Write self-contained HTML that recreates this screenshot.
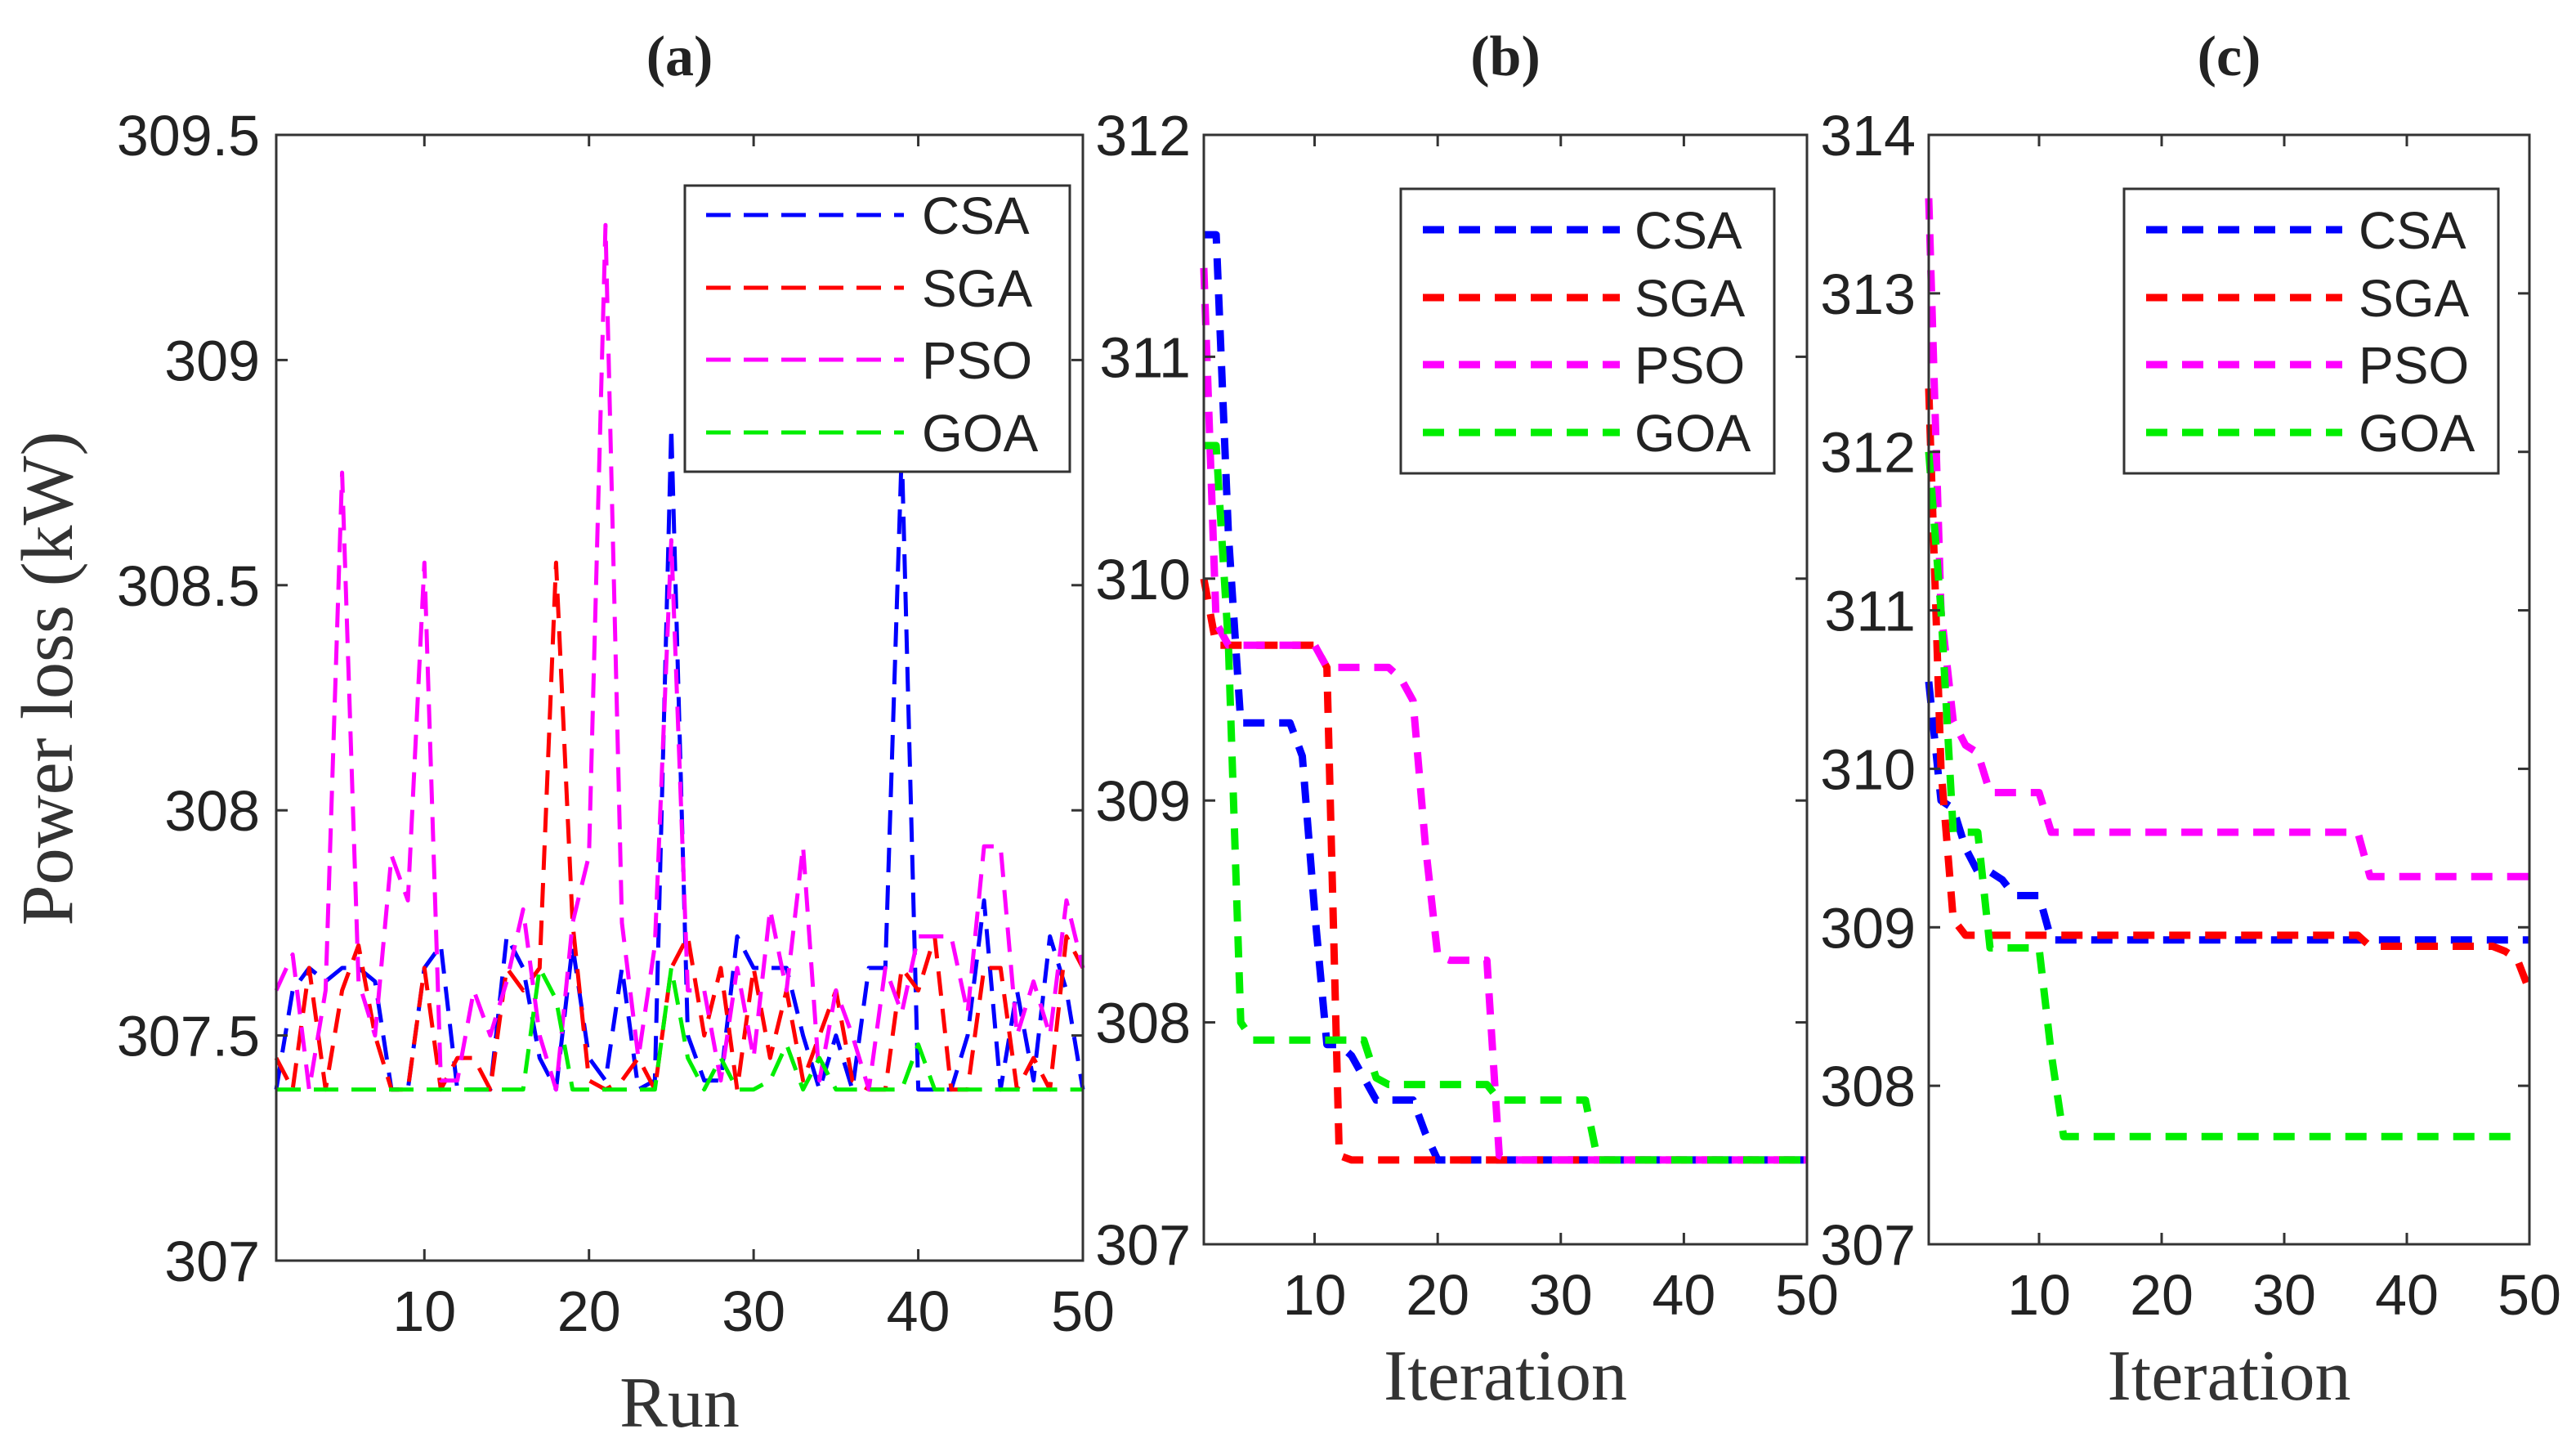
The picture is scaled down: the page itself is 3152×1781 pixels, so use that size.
<!DOCTYPE html>
<html><head><meta charset="utf-8"><style>
body{margin:0;background:#fff}
svg{display:block}
text{font-family:"Liberation Sans",Arial,sans-serif}
.serif{font-family:"Liberation Serif","Times New Roman",serif}
</style></head><body>
<svg id="chart" width="3152" height="1781" viewBox="0 0 3152 1781" xmlns="http://www.w3.org/2000/svg"></svg>
<script>
const runs = Array.from({length:50},(_,i)=>i+1);
const aCSA=[307.38,307.6,307.65,307.62,307.65,307.65,307.62,307.38,307.38,307.65,307.7,307.38,307.38,307.38,307.72,307.65,307.45,307.38,307.7,307.45,307.4,307.65,307.38,307.4,308.85,307.5,307.4,307.4,307.72,307.65,307.65,307.65,307.5,307.38,307.5,307.38,307.65,307.65,308.8,307.38,307.38,307.38,307.5,307.8,307.38,307.6,307.4,307.72,307.6,307.38];
const aSGA=[307.45,307.38,307.65,307.38,307.6,307.7,307.5,307.38,307.38,307.65,307.38,307.45,307.45,307.38,307.65,307.6,307.65,308.55,307.75,307.4,307.38,307.4,307.45,307.38,307.65,307.72,307.5,307.65,307.38,307.65,307.45,307.6,307.4,307.5,307.6,307.4,307.38,307.38,307.65,307.6,307.72,307.38,307.38,307.65,307.65,307.38,307.45,307.38,307.72,307.65];
const aPSO=[307.6,307.68,307.38,307.6,308.75,307.62,307.5,307.9,307.8,308.55,307.4,307.4,307.6,307.5,307.62,307.78,307.5,307.38,307.75,307.9,309.3,307.75,307.45,307.7,308.6,307.6,307.6,307.4,307.65,307.45,307.78,307.6,307.92,307.4,307.6,307.5,307.38,307.65,307.55,307.72,307.72,307.72,307.55,307.92,307.92,307.5,307.62,307.5,307.8,307.65];
const aGOA=[307.38,307.38,307.38,307.38,307.38,307.38,307.38,307.38,307.38,307.38,307.38,307.38,307.38,307.38,307.38,307.38,307.65,307.58,307.38,307.38,307.38,307.38,307.38,307.38,307.65,307.45,307.38,307.45,307.38,307.38,307.4,307.48,307.38,307.45,307.38,307.38,307.38,307.38,307.38,307.48,307.38,307.38,307.38,307.38,307.38,307.38,307.38,307.38,307.38,307.38];
const iters = Array.from({length:50},(_,i)=>i+1);
const bCSA=[311.55,311.55,310.2,309.35,309.35,309.35,309.35,309.35,309.2,308.5,307.9,307.9,307.85,307.75,307.65,307.65,307.65,307.65,307.5,307.38,307.38,307.38,307.38,307.38,307.38,307.38,307.38,307.38,307.38,307.38,307.38,307.38,307.38,307.38,307.38,307.38,307.38,307.38,307.38,307.38,307.38,307.38,307.38,307.38,307.38,307.38,307.38,307.38,307.38,307.38];
const bSGA=[310.0,309.7,309.7,309.7,309.7,309.7,309.7,309.7,309.7,309.7,309.6,307.4,307.38,307.38,307.38,307.38,307.38,307.38,307.38,307.38,307.38,307.38,307.38,307.38,307.38,307.38,307.38,307.38,307.38,307.38,307.38,307.38,307.38,307.38,307.38,307.38,307.38,307.38,307.38,307.38,307.38,307.38,307.38,307.38,307.38,307.38,307.38,307.38,307.38,307.38];
const bPSO=[311.4,309.8,309.7,309.7,309.7,309.7,309.7,309.7,309.7,309.7,309.6,309.6,309.6,309.6,309.6,309.6,309.55,309.45,308.8,308.3,308.28,308.28,308.28,308.28,307.4,307.38,307.38,307.38,307.38,307.38,307.38,307.38,307.38,307.38,307.38,307.38,307.38,307.38,307.38,307.38,307.38,307.38,307.38,307.38,307.38,307.38,307.38,307.38,307.38,307.38];
const bGOA=[310.6,310.6,309.7,308.0,307.92,307.92,307.92,307.92,307.92,307.92,307.92,307.92,307.92,307.92,307.75,307.72,307.72,307.72,307.72,307.72,307.72,307.72,307.72,307.72,307.65,307.65,307.65,307.65,307.65,307.65,307.65,307.65,307.38,307.38,307.38,307.38,307.38,307.38,307.38,307.38,307.38,307.38,307.38,307.38,307.38,307.38,307.38,307.38,307.38,307.38];
const cCSA=[310.55,309.8,309.75,309.5,309.35,309.35,309.3,309.2,309.2,309.2,308.92,308.92,308.92,308.92,308.92,308.92,308.92,308.92,308.92,308.92,308.92,308.92,308.92,308.92,308.92,308.92,308.92,308.92,308.92,308.92,308.92,308.92,308.92,308.92,308.92,308.92,308.92,308.92,308.92,308.92,308.92,308.92,308.92,308.92,308.92,308.92,308.92,308.92,308.92,308.92];
const cSGA=[312.4,310.0,309.05,308.95,308.95,308.95,308.95,308.95,308.95,308.95,308.95,308.95,308.95,308.95,308.95,308.95,308.95,308.95,308.95,308.95,308.95,308.95,308.95,308.95,308.95,308.95,308.95,308.95,308.95,308.95,308.95,308.95,308.95,308.95,308.95,308.95,308.88,308.88,308.88,308.88,308.88,308.88,308.88,308.88,308.88,308.88,308.88,308.85,308.8,308.6];
const cPSO=[313.6,311.0,310.3,310.15,310.1,309.85,309.85,309.85,309.85,309.85,309.6,309.6,309.6,309.6,309.6,309.6,309.6,309.6,309.6,309.6,309.6,309.6,309.6,309.6,309.6,309.6,309.6,309.6,309.6,309.6,309.6,309.6,309.6,309.6,309.6,309.6,309.32,309.32,309.32,309.32,309.32,309.32,309.32,309.32,309.32,309.32,309.32,309.32,309.32,309.32];
const cGOA=[312.0,311.0,309.6,309.6,309.6,308.87,308.87,308.87,308.87,308.87,308.2,307.68,307.68,307.68,307.68,307.68,307.68,307.68,307.68,307.68,307.68,307.68,307.68,307.68,307.68,307.68,307.68,307.68,307.68,307.68,307.68,307.68,307.68,307.68,307.68,307.68,307.68,307.68,307.68,307.68,307.68,307.68,307.68,307.68,307.68,307.68,307.68,307.68,307.68];
const xTicks=[10,20,30,40,50];
const aYTicks=[307,307.5,308,308.5,309,309.5];
const bYTicks=[307,308,309,310,311,312];
const cYTicks=[307,308,309,310,311,312,313,314];
const seriesNames=["CSA","SGA","PSO","GOA"];
const colors=["#0000ff","#ff0000","#ff00ff","#00ee00"];

const NS="http://www.w3.org/2000/svg";
const svg=document.getElementById('chart');
function mk(tag,attrs,parent){const e=document.createElementNS(NS,tag);for(const k in attrs)e.setAttribute(k,attrs[k]);(parent||svg).appendChild(e);return e;}

function panel(id,box,ylim,yTicks,data,title,xlabel,thick,legendBox,showYLabel,xlabY){
  const g=mk('g',{});
  
  
  const X=v=>box.l+(v-1)/49*(box.r-box.l);
  const Y=v=>box.b-(v-ylim[0])/(ylim[1]-ylim[0])*(box.b-box.t);
  const sw=thick?9:5, da=thick?'26,18':'30,16';
  data.forEach((arr,si)=>{
    const pts=arr.map((v,i)=>X(i+1).toFixed(1)+','+Y(v).toFixed(1)).join(' ');
    const p=mk('polyline',{points:pts,fill:'none',stroke:colors[si],'stroke-width':sw,'stroke-dasharray':da,'stroke-linejoin':'round'},g);
    
    
  });
  const fr=mk('rect',{x:box.l,y:box.t,width:box.r-box.l,height:box.b-box.t,fill:'none',stroke:'#333','stroke-width':3},g);
  
  
  xTicks.forEach(t=>{
    const x=X(t);
    mk('line',{x1:x,x2:x,y1:box.b,y2:box.b-14,stroke:'#333','stroke-width':3},g);
    mk('line',{x1:x,x2:x,y1:box.t,y2:box.t+14,stroke:'#333','stroke-width':3},g);
    const tx=mk('text',{x:x,y:box.b+86,'font-size':70,'text-anchor':'middle',fill:'#222'},g);
    tx.textContent=t;
    
    
  });
  yTicks.forEach(t=>{
    const y=Y(t);
    mk('line',{x1:box.l,x2:box.l+14,y1:y,y2:y,stroke:'#333','stroke-width':3},g);
    mk('line',{x1:box.r,x2:box.r-14,y1:y,y2:y,stroke:'#333','stroke-width':3},g);
    const tx=mk('text',{x:box.l-(id==='a'?20:16),y:y+25,'font-size':70,'text-anchor':'end',fill:'#222'},g);
    tx.textContent=t;
    
    
  });
  const tt=mk('text',{x:(box.l+box.r)/2,y:92,'font-size':70,'font-weight':'bold','text-anchor':'middle',class:'serif',fill:'#222'},g);
  tt.textContent=title;
  
  
  const xl=mk('text',{x:(box.l+box.r)/2,y:xlabY,'font-size':88,'text-anchor':'middle',class:'serif',fill:'#333'},g);
  xl.textContent=xlabel;
  
  
  if(showYLabel){
    const yl=mk('text',{x:0,y:0,'font-size':90,'text-anchor':'middle',class:'serif',fill:'#333',transform:'translate(88,830) rotate(-90)'},g);
    yl.textContent='Power loss (kW)';
    
    
  }
  const lg=mk('g',{},g);
  
  
  mk('rect',{x:legendBox.x,y:legendBox.y,width:legendBox.w,height:legendBox.h,fill:'#fff',stroke:'#333','stroke-width':3},lg);
  seriesNames.forEach((n,i)=>{
    const y=legendBox.ys[i];
    const le=mk('g',{},lg);
    
    
    mk('line',{x1:legendBox.lx1,x2:legendBox.lx2,y1:y,y2:y,stroke:colors[i],'stroke-width':sw,'stroke-dasharray':da},le);
    const t=mk('text',{x:legendBox.tx,y:y+23,'font-size':64,fill:'#222'},le);
    t.textContent=n;
  });
}
panel('a',{l:338,r:1325,t:165,b:1542},[307,309.5],aYTicks,[aCSA,aSGA,aPSO,aGOA],'(a)','Run',false,
  {x:838,y:227,w:471,h:350,ys:[263,352,440,529],lx1:864,lx2:1106,tx:1128},true,1745);
panel('b',{l:1473,r:2211,t:165,b:1522},[307,312],bYTicks,[bCSA,bSGA,bPSO,bGOA],'(b)','Iteration',true,
  {x:1714,y:231,w:457,h:348,ys:[281,364,446,529],lx1:1741,lx2:1982,tx:2000},false,1712);
panel('c',{l:2360,r:3095,t:165,b:1522},[307,314],cYTicks,[cCSA,cSGA,cPSO,cGOA],'(c)','Iteration',true,
  {x:2599,y:231,w:458,h:348,ys:[281,364,446,529],lx1:2626,lx2:2866,tx:2886},false,1712);
</script>
</body></html>
